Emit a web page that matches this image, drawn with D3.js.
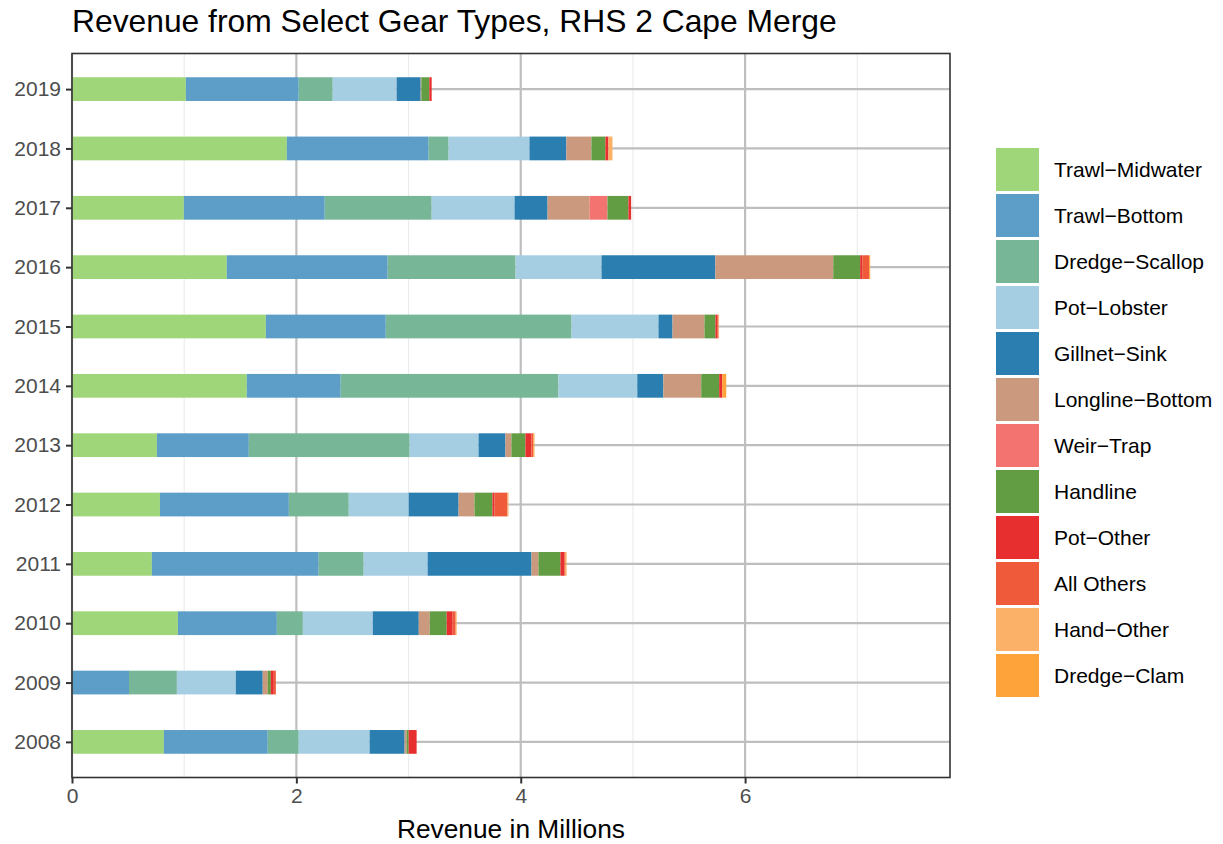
<!DOCTYPE html>
<html>
<head>
<meta charset="utf-8">
<script src="https://cdn.jsdelivr.net/npm/d3@7"></script>
<style>
  html, body { margin: 0; padding: 0; background: #fff; }
  svg { display: block; font-family: "Liberation Sans", Arial, Helvetica, sans-serif; }
</style>
</head>
<body>
<svg id="chart" width="1223" height="844"></svg>
<script>
// Revenue (millions of dollars) by gear type, 2008–2019
const years = [2008, 2009, 2010, 2011, 2012, 2013, 2014, 2015, 2016, 2017, 2018, 2019];

const gears = [
  "Trawl-Midwater", "Trawl-Bottom", "Dredge-Scallop", "Pot-Lobster", "Gillnet-Sink",
  "Longline-Bottom", "Weir-Trap", "Handline", "Pot-Other", "All Others", "Hand-Other", "Dredge-Clam"
];

const gearColors = [
  "#A0D67A", "#5D9EC9", "#78B698", "#A6CEE3", "#2B7EB0",
  "#CB9A7E", "#F37370", "#629D44", "#E72F2F", "#EF5A3B", "#FBB268", "#FEA33A"
];

const trawlMidwater  = [0.819, 0.000, 0.944, 0.712, 0.784, 0.757, 1.558, 1.728, 1.380, 0.997, 1.915, 1.015];
const trawlBottom    = [0.926, 0.508, 0.882, 1.487, 1.149, 0.819, 0.837, 1.069, 1.434, 1.256, 1.264, 1.006];
const dredgeScallop  = [0.276, 0.427, 0.232, 0.401, 0.534, 1.434, 1.941, 1.656, 1.140, 0.953, 0.178, 0.303];
const potLobster     = [0.632, 0.525, 0.623, 0.570, 0.534, 0.614, 0.703, 0.775, 0.766, 0.739, 0.721, 0.570];
const gillnetSink    = [0.312, 0.240, 0.410, 0.926, 0.445, 0.240, 0.232, 0.125, 1.015, 0.294, 0.329, 0.214];
const longlineBottom = [0.018, 0.045, 0.098, 0.062, 0.142, 0.053, 0.338, 0.285, 1.051, 0.374, 0.223, 0.006];
const weirTrap       = [0.000, 0.000, 0.000, 0.000, 0.000, 0.000, 0.000, 0.000, 0.000, 0.160, 0.000, 0.000];
const handline       = [0.018, 0.027, 0.151, 0.196, 0.160, 0.125, 0.160, 0.098, 0.240, 0.187, 0.125, 0.071];
const potOther       = [0.071, 0.027, 0.053, 0.036, 0.018, 0.053, 0.027, 0.015, 0.018, 0.024, 0.027, 0.021];
const allOthers      = [0.000, 0.018, 0.027, 0.009, 0.116, 0.018, 0.000, 0.012, 0.062, 0.000, 0.000, 0.000];
const handOther      = [0.000, 0.000, 0.009, 0.000, 0.009, 0.000, 0.000, 0.005, 0.000, 0.000, 0.036, 0.000];
const dredgeClam     = [0.000, 0.000, 0.000, 0.009, 0.000, 0.009, 0.036, 0.000, 0.009, 0.000, 0.000, 0.000];

const xMajorTicks = [0, 2, 4, 6];
const xMinorTicks = [1, 3, 5, 7];

const seriesValues = [
  trawlMidwater, trawlBottom, dredgeScallop, potLobster, gillnetSink, longlineBottom,
  weirTrap, handline, potOther, allOthers, handOther, dredgeClam
];

// one row per year for d3.stack
const rows = years.map((y, i) => {
  const r = { year: y };
  gears.forEach((g, k) => { r[g] = seriesValues[k][i]; });
  return r;
});

const svg = d3.select("#chart");

const panel = { left: 72, right: 950, top: 53.5, bottom: 777.5 };

const maxTotal = d3.max(rows, r => d3.sum(gears, g => r[g]));

const x = d3.scaleLinear()
  .domain([0, maxTotal * 1.1])
  .range([panel.left, panel.right]);

const y = d3.scalePoint()
  .domain(years.slice().reverse().map(String))
  .range([panel.top, panel.bottom])
  .padding(0.6);

const barH = y.step() * 0.4;

const color = d3.scaleOrdinal().domain(gears).range(gearColors);

const stacked = d3.stack().keys(gears)(rows);

// grid
const grid = svg.append("g");
grid.selectAll("line.minor").data(xMinorTicks).join("line")
  .attr("x1", d => x(d)).attr("x2", d => x(d))
  .attr("y1", panel.top).attr("y2", panel.bottom)
  .attr("stroke", "#EBEBEB").attr("stroke-width", 1.1);
grid.selectAll("line.majx").data(xMajorTicks).join("line")
  .attr("x1", d => x(d)).attr("x2", d => x(d))
  .attr("y1", panel.top).attr("y2", panel.bottom)
  .attr("stroke", "#BEBEBE").attr("stroke-width", 2.2);
grid.selectAll("line.majy").data(years).join("line")
  .attr("x1", panel.left).attr("x2", panel.right)
  .attr("y1", d => y(String(d))).attr("y2", d => y(String(d)))
  .attr("stroke", "#BEBEBE").attr("stroke-width", 2.2);

// stacked bars
svg.append("g").selectAll("g").data(stacked).join("g")
  .attr("fill", d => color(d.key))
  .selectAll("rect").data(d => d).join("rect")
  .attr("x", d => x(d[0]))
  .attr("width", d => Math.max(0, x(d[1]) - x(d[0])))
  .attr("y", d => y(String(d.data.year)) - barH / 2)
  .attr("height", barH);

// panel border
svg.append("rect")
  .attr("x", panel.left).attr("y", panel.top)
  .attr("width", panel.right - panel.left).attr("height", panel.bottom - panel.top)
  .attr("fill", "none").attr("stroke", "#333333").attr("stroke-width", 1.6);

// axes
const xAxis = d3.axisBottom(x).tickValues(xMajorTicks).tickSize(6).tickPadding(5).tickFormat(d3.format("d"));
const gx = svg.append("g").attr("transform", `translate(0,${panel.bottom})`).call(xAxis);
gx.select(".domain").remove();
gx.selectAll(".tick line").attr("stroke", "#333333").attr("stroke-width", 2);
gx.selectAll(".tick text").attr("fill", "#4D4D4D").attr("font-size", 21)
  .attr("font-family", "Liberation Sans, Arial, sans-serif");

const yAxis = d3.axisLeft(y).tickSize(6).tickPadding(5);
const gy = svg.append("g").attr("transform", `translate(${panel.left},0)`).call(yAxis);
gy.select(".domain").remove();
gy.selectAll(".tick line").attr("stroke", "#333333").attr("stroke-width", 2);
gy.selectAll(".tick text").attr("fill", "#4D4D4D").attr("font-size", 21)
  .attr("font-family", "Liberation Sans, Arial, sans-serif");

// titles
svg.append("text")
  .attr("x", panel.left).attr("y", 32)
  .attr("font-size", 31.8).attr("fill", "#000")
  .text("Revenue from Select Gear Types, RHS 2 Cape Merge");

svg.append("text")
  .attr("x", (panel.left + panel.right) / 2).attr("y", 838)
  .attr("text-anchor", "middle")
  .attr("font-size", 26.3).attr("fill", "#000")
  .text("Revenue in Millions");

// legend
const legend = svg.append("g").attr("transform", "translate(996,148)");
const item = legend.selectAll("g").data(gears).join("g")
  .attr("transform", (d, i) => `translate(0,${i * 46})`);
item.append("rect")
  .attr("width", 43).attr("height", 43)
  .attr("fill", d => color(d));
item.append("text")
  .attr("x", 58).attr("y", 21.5 + 7.6)
  .attr("font-size", 21).attr("fill", "#000")
  .text(d => d.replace("-", "\u2212"));
</script>
</body>
</html>
